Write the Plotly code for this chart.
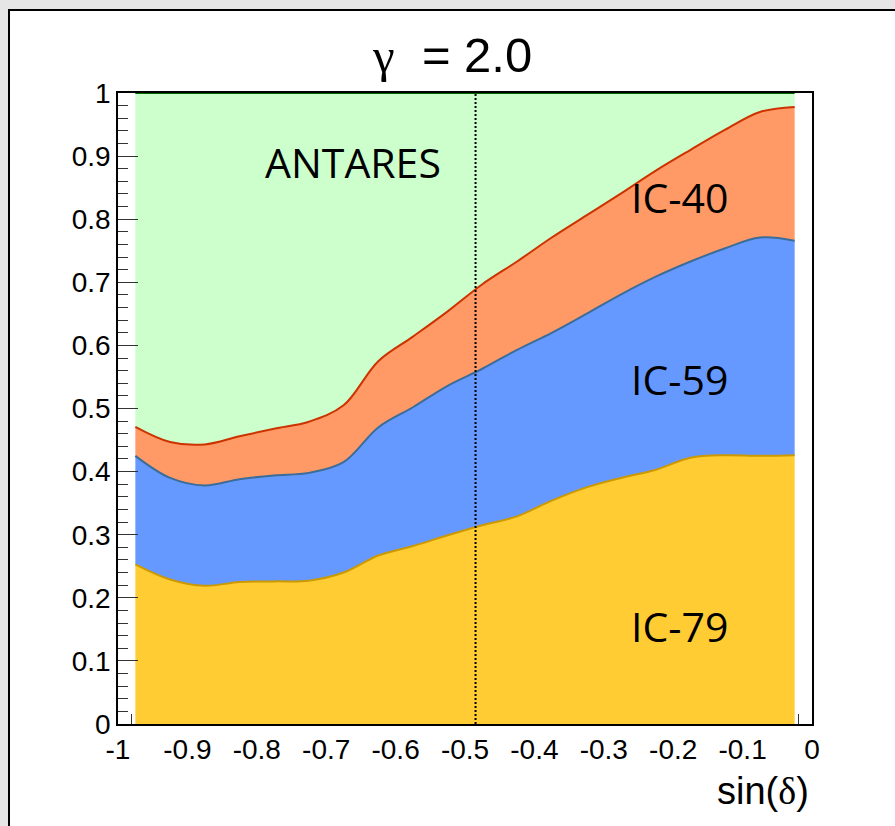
import numpy as np
import plotly.graph_objects as go

# ---- data -------------------------------------------------------------
sin_dec = [-0.975, -0.925, -0.875, -0.825, -0.775, -0.725, -0.675, -0.625, -0.575, -0.525,
           -0.475, -0.425, -0.375, -0.325, -0.275, -0.225, -0.175, -0.125, -0.075, -0.025]

frac_ic79 = [0.253, 0.229, 0.219, 0.225, 0.226, 0.227, 0.240, 0.267, 0.282, 0.299,
             0.315, 0.329, 0.354, 0.375, 0.390, 0.403, 0.422, 0.426, 0.425, 0.426]
frac_ic59 = [0.172, 0.161, 0.159, 0.163, 0.168, 0.171, 0.175, 0.203, 0.220, 0.237,
             0.248, 0.264, 0.266, 0.275, 0.291, 0.306, 0.311, 0.328, 0.346, 0.340]
frac_ic40 = [0.046, 0.057, 0.065, 0.068, 0.074, 0.081, 0.090, 0.105, 0.112, 0.118,
             0.134, 0.140, 0.151, 0.156, 0.160, 0.168, 0.177, 0.188, 0.199, 0.212]
frac_antares = [0.529, 0.553, 0.557, 0.544, 0.532, 0.521, 0.495, 0.425, 0.386, 0.346,
                0.303, 0.267, 0.229, 0.194, 0.159, 0.123, 0.090, 0.058, 0.030, 0.022]

series_names = ["IC-79", "IC-59", "IC-40", "ANTARES"]
gc_sin_dec = -0.4848  # Galactic centre declination

x_tickvals = [-1, -0.9, -0.8, -0.7, -0.6, -0.5, -0.4, -0.3, -0.2, -0.1, 0]
x_ticktext = ["-1", "-0.9", "-0.8", "-0.7", "-0.6", "-0.5", "-0.4", "-0.3", "-0.2", "-0.1", "0"]
y_tickvals = [0, 0.1, 0.2, 0.3, 0.4, 0.5, 0.6, 0.7, 0.8, 0.9, 1]
y_ticktext = ["0", "0.1", "0.2", "0.3", "0.4", "0.5", "0.6", "0.7", "0.8", "0.9", "1"]

# ---- styling ----------------------------------------------------------
fill_colors = ["#ffcc33", "#6699ff", "#ff9966", "#ccffcc"]
line_colors = ["#cc9900", "#3a6d99", "#cc3300", "#006600"]

W, H = 895, 826
L, R, T, B = 118, 83, 93, 102
PW, PH = W - L - R, H - T - B

fracs = np.array([frac_ic79, frac_ic59, frac_ic40, frac_antares])
cum = np.cumsum(fracs, axis=0)

fig = go.Figure()
for i, name in enumerate(series_names):
    fig.add_trace(go.Scatter(
        x=sin_dec, y=cum[i], name=name, mode="lines",
        line=dict(color=line_colors[i], width=2, shape="spline", smoothing=1.0),
        fill="tozeroy" if i == 0 else "tonexty",
        fillcolor=fill_colors[i],
        showlegend=False, hoverinfo="skip",
    ))

fig.add_trace(go.Scatter(
    x=[gc_sin_dec, gc_sin_dec], y=[0, 1], mode="lines",
    line=dict(color="black", width=2, dash="2px,2px"),
    showlegend=False, hoverinfo="skip",
))

tick_font = dict(family="Liberation Sans, Arial, sans-serif", size=28, color="black")

fig.update_xaxes(
    range=[-1, 0], tickvals=x_tickvals, ticktext=x_ticktext,
    ticks="inside", ticklen=20, tickwidth=1, tickcolor="#333",
    minor=dict(ticks="inside", ticklen=10, dtick=0.02, tick0=0, tickcolor="#333", tickwidth=1),
    showline=True, linecolor="black", linewidth=1.5, mirror=True,
    showgrid=False, zeroline=False, layer="below traces",
    tickfont=tick_font,
)
fig.update_yaxes(
    range=[0, 1], tickvals=y_tickvals, ticktext=y_ticktext,
    ticks="inside", ticklen=20, tickwidth=1, tickcolor="#333",
    minor=dict(ticks="inside", ticklen=10, dtick=0.02, tick0=0, tickcolor="#333", tickwidth=1),
    showline=True, linecolor="black", linewidth=1.5, mirror=True,
    showgrid=False, zeroline=False, layer="above traces",
    tickfont=tick_font,
)

label_font = dict(family="Open Sans, sans-serif", size=41, color="black")
annotations = [
    dict(x=-0.662, y=0.891, text="ANTARES", xref="x", yref="y", showarrow=False,
         font=label_font, xanchor="center", yanchor="middle"),
    dict(x=-0.1916, y=0.835, text="IC-40", xref="x", yref="y", showarrow=False,
         font=label_font, xanchor="center", yanchor="middle"),
    dict(x=-0.1916, y=0.547, text="IC-59", xref="x", yref="y", showarrow=False,
         font=label_font, xanchor="center", yanchor="middle"),
    dict(x=-0.1916, y=0.155, text="IC-79", xref="x", yref="y", showarrow=False,
         font=label_font, xanchor="center", yanchor="middle"),
    dict(x=(452 - L) / PW, y=1 + (T - 56) / PH, xref="paper", yref="paper", showarrow=False,
         text="<span style='font-family:Liberation Serif, serif'>γ</span>  = 2.0",
         font=dict(family="Liberation Sans, Arial, sans-serif", size=49, color="black"),
         xanchor="center", yanchor="middle"),
    dict(x=(811 - L) / PW, y=1 - (791 - T) / PH, xref="paper", yref="paper", showarrow=False,
         text="sin(<span style='font-family:Liberation Serif, serif'>δ</span>)",
         font=dict(family="Liberation Sans, Arial, sans-serif", size=38, color="black"),
         xanchor="right", yanchor="middle"),
]

shapes = [
    dict(type="rect", xref="paper", yref="paper", layer="below",
         x0=(9 - L) / PW, x1=(W + 10 - L) / PW,
         y0=1 - (H + 10 - T) / PH, y1=1 + (T - 10) / PH,
         fillcolor="white", line=dict(color="black", width=2)),
]

fig.update_layout(
    width=W, height=H,
    margin=dict(l=L, r=R, t=T, b=B, pad=0),
    paper_bgcolor="#e6e6e6", plot_bgcolor="white",
    annotations=annotations, shapes=shapes,
    showlegend=False,
)

fig.write_html("out.html")
